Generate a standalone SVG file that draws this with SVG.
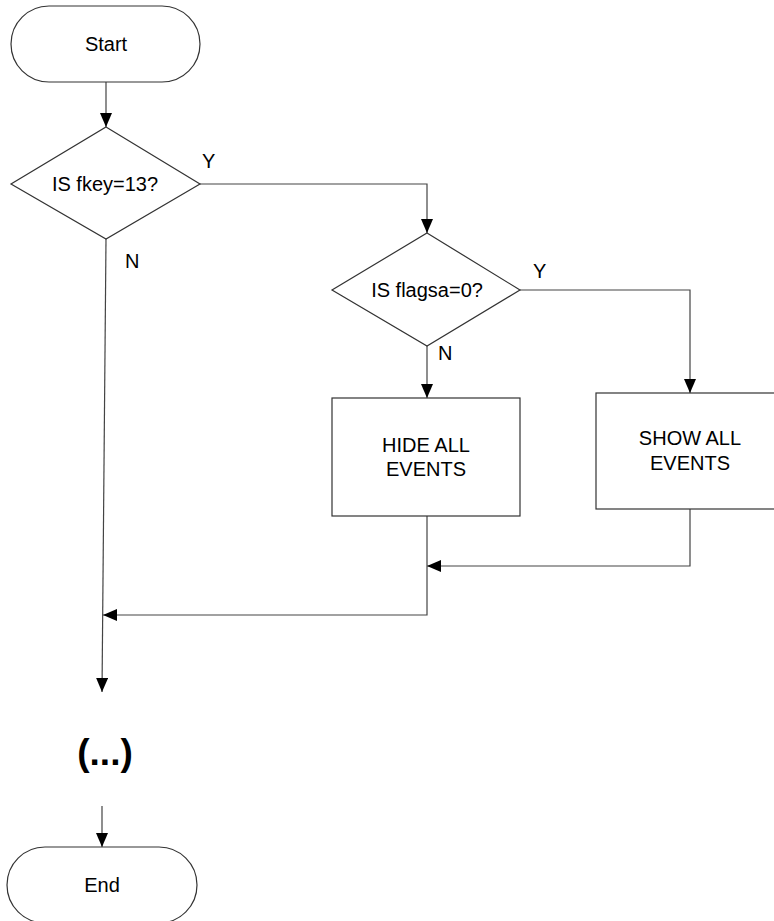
<svg xmlns="http://www.w3.org/2000/svg" width="774" height="921" viewBox="0 0 774 921">
<defs>
<style>
.shape{fill:#fff;stroke:#333;stroke-width:1.2}
.conn{fill:none;stroke:#444;stroke-width:1.2}
.t{font-family:"Liberation Sans",Arial,sans-serif;font-size:20px;fill:#000;text-anchor:middle}
.lbl{font-family:"Liberation Sans",Arial,sans-serif;font-size:20px;fill:#000}
</style>
<marker id="ah" viewBox="0 0 14 12" refX="14" refY="6" markerWidth="14" markerHeight="12" markerUnits="userSpaceOnUse" orient="auto">
<path d="M0,0 L14,6 L0,12 Z" fill="#000"/>
</marker>
</defs>
<rect width="774" height="921" fill="#fff"/>
<g id="connectors">
<path class="conn" d="M106,82 L106,127" marker-end="url(#ah)"/>
<path class="conn" d="M200,184 L427,184 L427,233" marker-end="url(#ah)"/>
<path class="conn" d="M106,239 L102,692" marker-end="url(#ah)"/>
<path class="conn" d="M520,290 L690,290 L690,393" marker-end="url(#ah)"/>
<path class="conn" d="M427,346 L427,398" marker-end="url(#ah)"/>
<path class="conn" d="M690,509 L690,566 L427,566" marker-end="url(#ah)"/>
<path class="conn" d="M427,516 L427,615 L103,615" marker-end="url(#ah)"/>
<path class="conn" d="M102,806 L102,847" marker-end="url(#ah)"/>
</g>
<g id="start">
<rect class="shape" x="11" y="6" width="189" height="76" rx="38" ry="38"/>
<text class="t" x="106" y="51">Start</text>
</g>
<g id="decision1">
<polygon class="shape" points="106,127 200,184 106,239 11,184"/>
<text class="t" x="105" y="191">IS fkey=13?</text>
<text class="lbl" x="202" y="168">Y</text>
<text class="lbl" x="125" y="268">N</text>
</g>
<g id="decision2">
<polygon class="shape" points="427,233 520,290 427,346 332,290"/>
<text class="t" x="427" y="297">IS flagsa=0?</text>
<text class="lbl" x="533" y="278">Y</text>
<text class="lbl" x="438" y="360">N</text>
</g>
<g id="hide">
<rect class="shape" x="332" y="398" width="188" height="118"/>
<text class="t" x="426" y="452">HIDE ALL</text>
<text class="t" x="426" y="476">EVENTS</text>
</g>
<g id="show">
<rect class="shape" x="596" y="393" width="188" height="116"/>
<text class="t" x="690" y="445">SHOW ALL</text>
<text class="t" x="690" y="470">EVENTS</text>
</g>
<g id="ellipsis">
<text x="105" y="765" style="font-family:'Liberation Sans',Arial,sans-serif;font-size:37px;font-weight:bold;text-anchor:middle">(...)</text>
</g>
<g id="end">
<rect class="shape" x="7" y="847" width="190" height="76" rx="38" ry="38"/>
<text class="t" x="102" y="892">End</text>
</g>
</svg>
